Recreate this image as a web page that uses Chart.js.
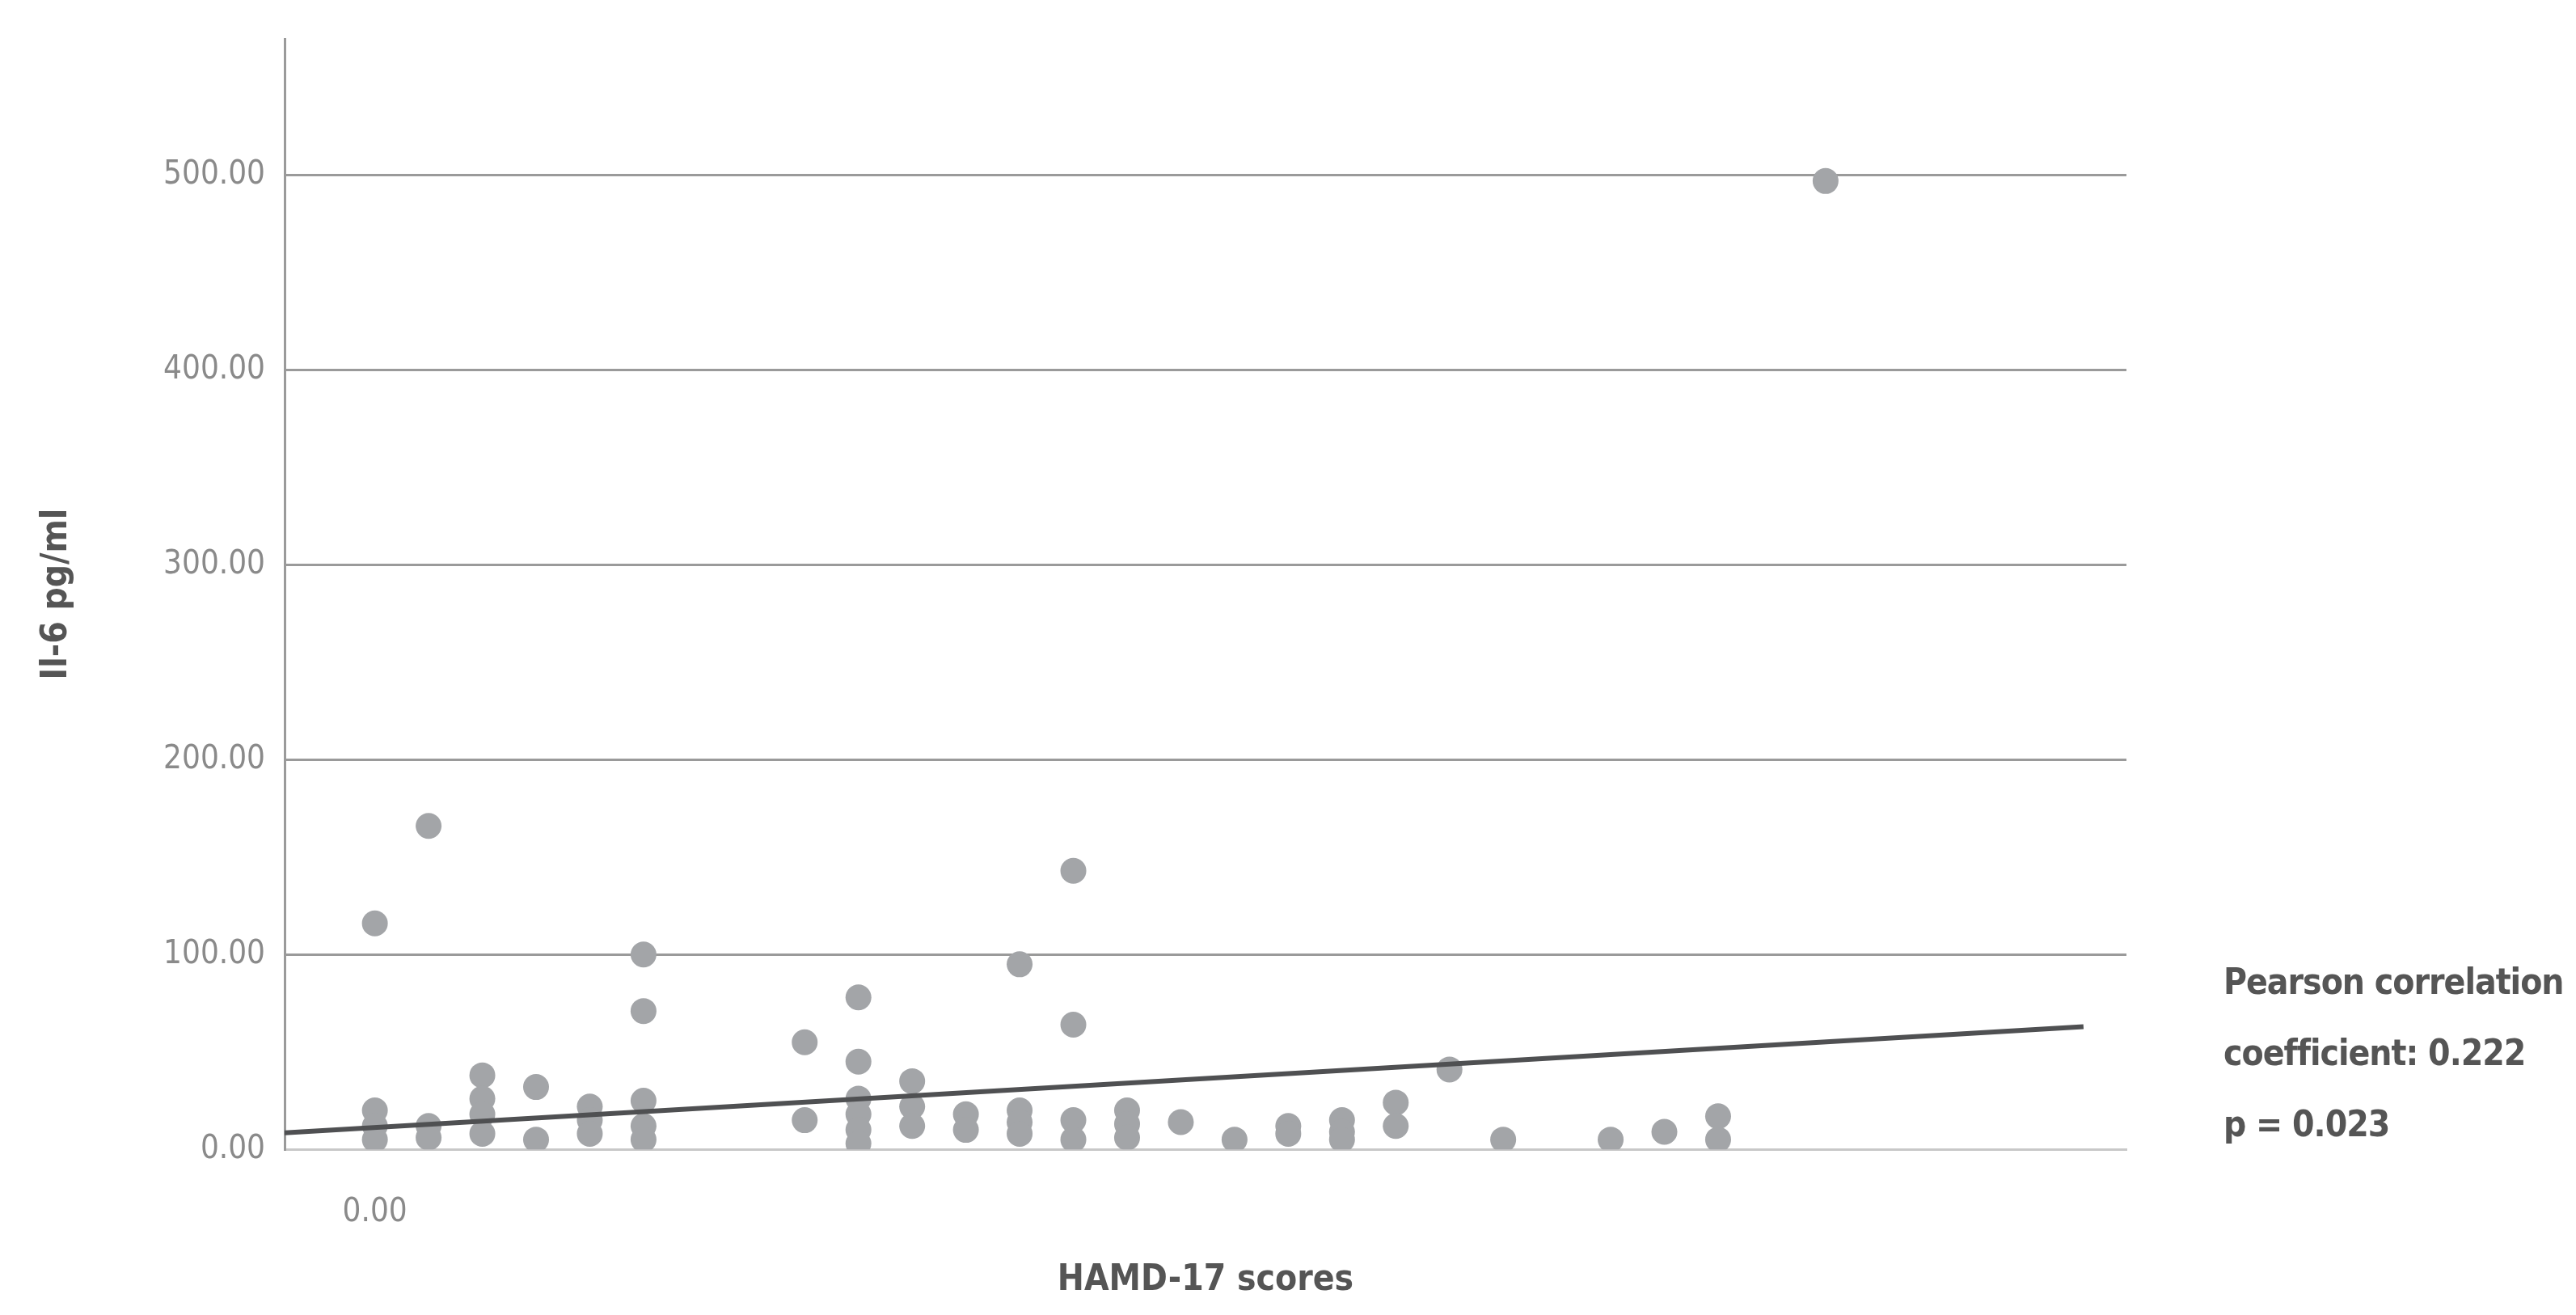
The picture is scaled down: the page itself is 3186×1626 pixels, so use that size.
<!DOCTYPE html>
<html>
<head>
<meta charset="utf-8">
<script src="https://cdn.jsdelivr.net/npm/chart.js@4.4.1/dist/chart.umd.min.js"></script>
<style>
  html, body { margin: 0; padding: 0; background: #fff; }
  #wrap { position: relative; width: 3186px; height: 1626px; }
  #note { position: absolute; left: 2750px; top: 1170px; font-family: "DejaVu Sans Condensed", sans-serif;
          font-weight: bold; font-size: 44px; color: #555; line-height: 88px; letter-spacing: -1px; }
</style>
</head>
<body>
<div id="wrap">
  <canvas id="chart" width="3186" height="1626"></canvas>
  <div id="note">Pearson correlation<br>coefficient: 0.222<br>p = 0.023</div>
</div>
<script>
// HAMD-17 score columns and the IL-6 values seen at each score
const hamdScores = [0, 1, 2, 3, 4, 5, 8, 9, 10, 11, 12, 13, 14, 15, 16, 17, 18, 19, 20, 21, 23, 24, 25, 27];
const il6Values = [
    [116, 20, 12, 5],
    [166, 12, 6],
    [38, 26, 18, 8],
    [32, 5],
    [22, 15, 8],
    [100, 71, 25, 12, 5],
    [55, 15],
    [78, 45, 26, 18, 10, 3],
    [35, 22, 12],
    [18, 10],
    [95, 20, 14, 8],
    [143, 64, 15, 5],
    [20, 13, 6],
    [14],
    [5],
    [12, 8],
    [15, 9, 5],
    [24, 12],
    [41],
    [5],
    [5],
    [9],
    [17, 5],
    [497]
];
const fitX = [-1.68, 31.8];
const fitY = [8.5, 63];
const yTicks = [0, 100, 200, 300, 400, 500];

const points = [];
hamdScores.forEach((score, i) => {
    il6Values[i].forEach(v => points.push({ x: score, y: v }));
});

const font = "'DejaVu Sans Condensed', sans-serif";

new Chart(document.getElementById('chart'), {
    type: 'scatter',
    data: {
        datasets: [{
            data: points,
            backgroundColor: '#a3a5a8',
            borderWidth: 0,
            pointRadius: 16,
            order: 2
        }, {
            type: 'line',
            data: fitX.map((x, i) => ({ x: x, y: fitY[i] })),
            borderColor: '#4f5052',
            borderWidth: 6,
            pointRadius: 0,
            order: 1
        }]
    },
    options: {
        responsive: false,
        animation: false,
        layout: { padding: { top: 45, right: 556, left: 40, bottom: 12 } },
        plugins: { legend: { display: false }, tooltip: { enabled: false } },
        scales: {
            x: {
                type: 'linear',
                min: -1.68,
                max: 32.6,
                afterBuildTicks: s => { s.ticks = [{ value: 0 }]; },
                grid: { display: false, drawTicks: false },
                border: { color: '#c8c8c8', width: 3 },
                ticks: {
                    color: '#8a8a8a', font: { family: font, size: 40 }, padding: 54,
                    callback: v => v.toFixed(2)
                },
                title: {
                    display: true, text: 'HAMD-17 scores', color: '#555',
                    font: { family: font, size: 44, weight: 'bold' }, padding: { top: -20 }
                }
            },
            y: {
                min: 0,
                max: 570,
                afterBuildTicks: s => { s.ticks = yTicks.map(v => ({ value: v })); },
                afterFit: s => { s.width = 312; },
                grid: { color: '#9a9a9a', lineWidth: 3, drawTicks: false },
                border: { color: '#9a9a9a', width: 3 },
                ticks: {
                    color: '#8a8a8a', font: { family: font, size: 40 }, padding: 24,
                    callback: v => v.toFixed(2)
                },
                title: {
                    display: true, text: 'Il-6 pg/ml', color: '#555',
                    font: { family: font, size: 44, weight: 'bold' }, padding: { bottom: 60 }
                }
            }
        }
    }
});
</script>
</body>
</html>
